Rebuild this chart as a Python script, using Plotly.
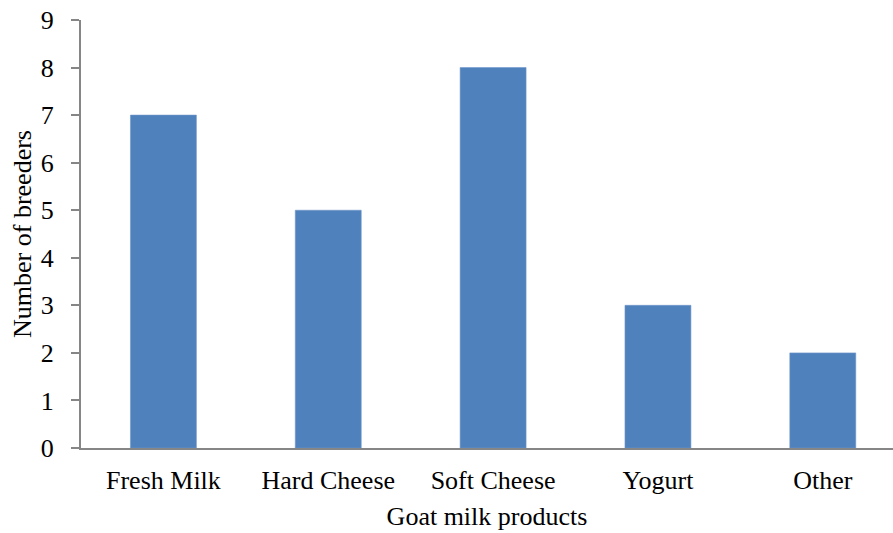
import plotly.graph_objects as go

# Goat milk products and how many breeders make each
products = ["Fresh Milk", "Hard Cheese", "Soft Cheese", "Yogurt", "Other"]
breeders = [7, 5, 8, 3, 2]
y_ticks = list(range(0, 10))

bar_color = "#4F81BD"
axis_color = "#868686"
font_family = "Liberation Serif, Times New Roman, serif"
font_size = 26

fig = go.Figure(
    go.Bar(
        x=products,
        y=breeders,
        marker=dict(color=bar_color, line=dict(color="#6F95C8", width=0.6)),
        width=0.4,
    )
)

fig.update_layout(
    width=893,
    height=533,
    margin=dict(l=81, r=0, t=20, b=85),
    paper_bgcolor="white",
    plot_bgcolor="white",
    font=dict(family=font_family, size=font_size, color="black"),
    showlegend=False,
)

# category axis runs on past the right edge of the canvas
fig.update_xaxes(
    range=[-0.5, 4.426],
    showline=True,
    linecolor=axis_color,
    linewidth=2,
    showgrid=False,
    ticks="",
    ticklabelstandoff=8,
    tickfont=dict(size=font_size),
    title=dict(text="Goat milk products", font=dict(size=font_size), standoff=13),
)

fig.update_yaxes(
    range=[0, 9],
    tickvals=y_ticks,
    showline=True,
    linecolor=axis_color,
    linewidth=2,
    showgrid=False,
    zeroline=False,
    ticks="outside",
    ticklen=8,
    tickwidth=2,
    tickcolor=axis_color,
    ticklabelstandoff=12,
    tickfont=dict(size=font_size),
    title=dict(text="Number of breeders", font=dict(size=font_size), standoff=2),
)

fig.write_html("out.html")
